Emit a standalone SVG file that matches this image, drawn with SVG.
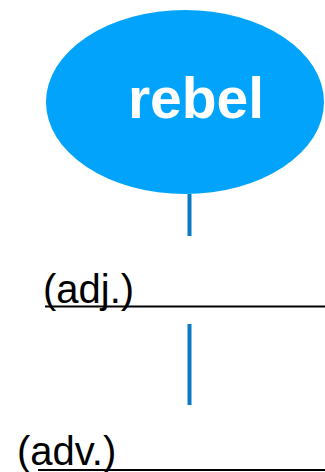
<svg xmlns="http://www.w3.org/2000/svg" width="325" height="472" viewBox="0 0 325 472">
<style>
.lbl{font-family:"Liberation Sans",Arial,sans-serif;font-size:40px;fill:#000}
.conn{stroke:#0b7bc4;stroke-width:4;fill:none}
.ul{stroke:#000;stroke-width:2}
</style>
<rect width="325" height="472" fill="#fff"/>
<g id="connectors">
<line class="conn" x1="189.5" y1="194" x2="189.5" y2="236"/>
<line class="conn" x1="189.5" y1="324" x2="189.5" y2="405"/>
</g>
<g id="node-rebel">
<ellipse cx="185" cy="102" rx="139" ry="92" fill="#02a3fb"/>
<text x="196" y="118" text-anchor="middle" font-family="Liberation Sans,Arial,sans-serif" font-weight="bold" font-size="57" fill="#fff">rebel</text>
</g>
<g id="node-adj">
<text class="lbl" x="43" y="303">(adj.)</text>
<line class="ul" x1="45" y1="306.5" x2="325" y2="306.5"/>
</g>
<g id="node-adv">
<text class="lbl" x="17" y="465">(adv.)</text>
<line class="ul" x1="38" y1="470" x2="325" y2="470"/>
</g>
</svg>
